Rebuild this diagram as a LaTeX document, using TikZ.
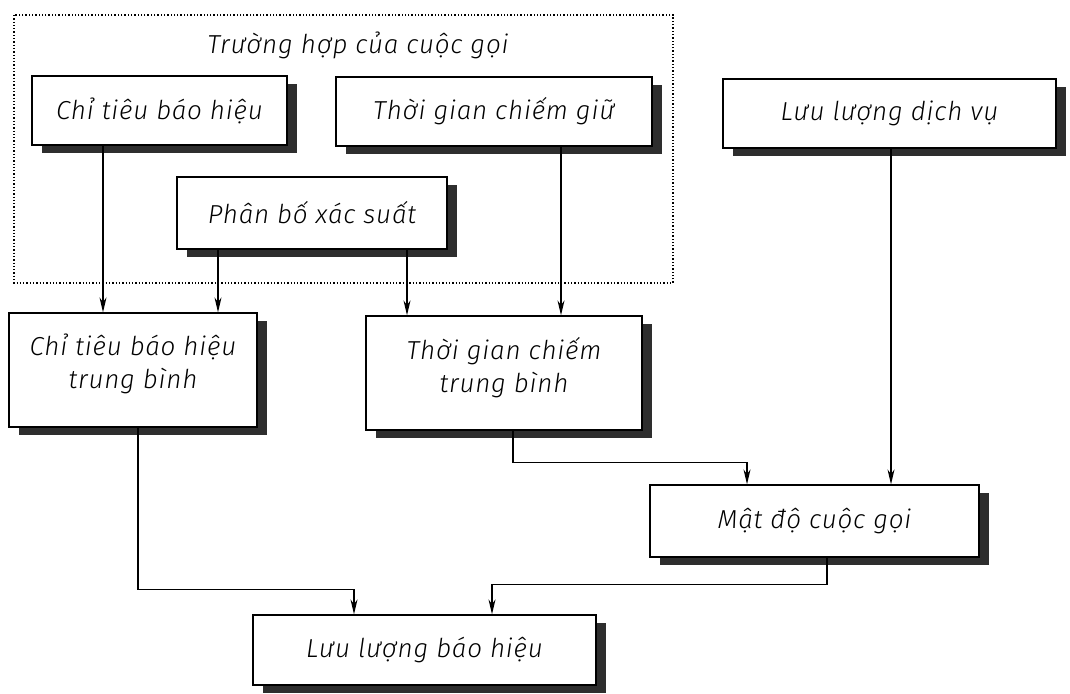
\documentclass[tikz,border=0pt]{standalone}
\usepackage{fontspec}
\setmainfont{DejaVu Sans}
\newfontfamily\hand{Fira Sans Light Italic}[LetterSpace=3]
\usetikzlibrary{arrows.meta,shadows,calc}
\tikzset{
  label font/.style={font=\hand\fontsize{26}{33}\selectfont},
  box/.style={draw, line width=1.3pt, fill=white, rectangle, inner sep=0pt,
    label font, align=center,
    drop shadow={shadow xshift=10pt, shadow yshift=-8pt, fill=black!82, opacity=1}},
  link/.style={line width=1.2pt, -{Stealth[length=15pt,width=7pt]}},
  group/.style={dotted, line width=1.3pt},
}
\begin{document}
\begin{tikzpicture}[x=1pt,y=-1pt]
\useasboundingbox (0,0) rectangle (1070,693);

% dotted group frame and its caption
\draw[group] (14,15) rectangle (673,283);
\node[label font] (title) at (358,45) {Trường hợp của cuộc gọi};

% boxes
\node[box, minimum width=255pt, minimum height=69pt] (b1) at (159.5,110.5) {Chỉ tiêu báo hiệu};
\node[box, minimum width=316pt, minimum height=69pt] (b2) at (494,111.5) {Thời gian chiếm giữ};
\node[box, minimum width=333pt, minimum height=69pt] (b3) at (889.5,113.5) {Lưu lượng dịch vụ};
\node[box, minimum width=270pt, minimum height=72pt] (b4) at (312,213) {Phân bố xác suất};
\node[box, minimum width=248pt, minimum height=114pt, text depth=17pt] (b5) at (133,370) {Chỉ tiêu báo hiệu\\trung bình};
\node[box, minimum width=276pt, minimum height=114pt, text depth=17pt] (b6) at (504,373) {Thời gian chiếm\\trung bình};
\node[box, minimum width=329pt, minimum height=72pt] (b7) at (814.5,521) {Mật độ cuộc gọi};
\node[box, minimum width=343pt, minimum height=70pt] (b8) at (424.5,650) {Lưu lượng báo hiệu};

% straight feeds
\draw[link] ([xshift=-56.5pt]b1.south) -- ([xshift=-56.5pt]b1.south |- b5.north);
\draw[link] ([xshift=-94pt]b4.south) -- ([xshift=-94pt]b4.south |- b5.north);
\draw[link] ([xshift=95pt]b4.south) -- ([xshift=95pt]b4.south |- b6.north);
\draw[link] ([xshift=67pt]b2.south) -- ([xshift=67pt]b2.south |- b6.north);
\draw[link] ([xshift=1.5pt]b3.south) -- ([xshift=1.5pt]b3.south |- b7.north);

% elbow feeds
\draw[link] ([xshift=9pt]b6.south) |- ($([xshift=-67.5pt]b7.north)+(0,-22)$) -- ([xshift=-67.5pt]b7.north);
\draw[link] ([xshift=5pt]b5.south) |- ($([xshift=-70.5pt]b8.north)+(0,-25)$) -- ([xshift=-70.5pt]b8.north);
\draw[link] ([xshift=12.5pt]b7.south) |- ($([xshift=67.5pt]b8.north)+(0,-30)$) -- ([xshift=67.5pt]b8.north);
\end{tikzpicture}
\end{document}
